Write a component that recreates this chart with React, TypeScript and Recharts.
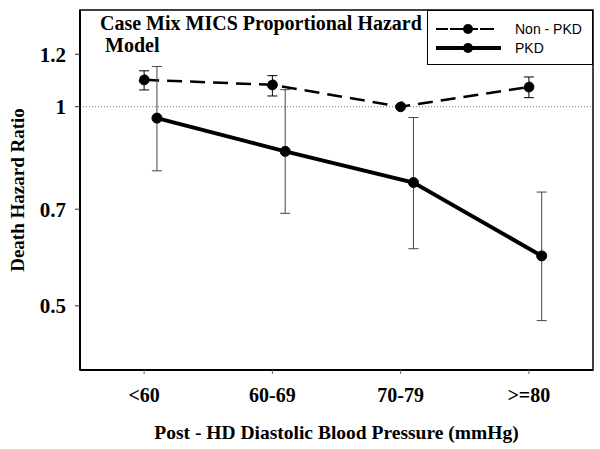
import {
  LineChart,
  Line,
  XAxis,
  YAxis,
  ErrorBar,
  ReferenceLine,
  ReferenceArea,
  Label,
} from "recharts";

// Hazard ratios (log-scaled y axis)
const categories = ["<60", "60-69", "70-79", ">=80"];
const nonPkdHr = [1.098, 1.079, 1.0, 1.071];
const nonPkdLow: (number | null)[] = [1.06, 1.038, null, 1.032];
const nonPkdHigh: (number | null)[] = [1.133, 1.114, null, 1.109];
const pkdHr = [0.961, 0.856, 0.768, 0.595];
const pkdLow = [0.8, 0.69, 0.61, 0.475];
const pkdHigh = [1.15, 1.061, 0.963, 0.743];
const yTicks = [0.5, 0.7, 1, 1.2];

// PKD points sit a little to the right of each category
const PKD_SHIFT = 0.1;

const SERIF = "'Liberation Serif', 'Times New Roman', serif";
const SANS = "'Liberation Sans', Arial, sans-serif";

function buildSeries(
  hr: number[],
  low: (number | null)[],
  high: (number | null)[],
  shift: number
) {
  return hr.map((v, i) => {
    const lo = low[i];
    const hi = high[i];
    return {
      x: i + shift,
      hr: v,
      err: lo == null || hi == null ? null : [v - lo, hi - v],
    };
  });
}

const nonPkdData = buildSeries(nonPkdHr, nonPkdLow, nonPkdHigh, 0);
const pkdData = buildSeries(pkdHr, pkdLow, pkdHigh, PKD_SHIFT);

// legend drawn by hand, boxed in the top-right corner of the plot
function LegendBox() {
  return (
    <div
      style={{
        position: "absolute",
        left: 427,
        top: 10,
        boxSizing: "border-box",
        width: 166,
        height: 55,
        border: "1px solid #000",
        background: "#fff",
        fontFamily: SANS,
        fontSize: 14,
        color: "#000",
      }}
    >
      <svg width={80} height={55} style={{ position: "absolute", left: 0, top: 0 }}>
        <line x1={8} x2={20} y1={18} y2={18} stroke="#000" strokeWidth={2} />
        <line x1={52} x2={66} y1={18} y2={18} stroke="#000" strokeWidth={2} />
        <line x1={22} x2={50} y1={18} y2={18} stroke="#000" strokeWidth={2} />
        <circle cx={40} cy={18} r={5} fill="#000" />
        <line x1={8} x2={73} y1={37} y2={37} stroke="#000" strokeWidth={4} />
        <circle cx={40} cy={37} r={5} fill="#000" />
      </svg>
      <div style={{ position: "absolute", left: 87, top: 9, lineHeight: "18px" }}>
        Non - PKD
      </div>
      <div style={{ position: "absolute", left: 87, top: 28, lineHeight: "18px" }}>
        PKD
      </div>
    </div>
  );
}

export default function App() {
  const tickStyle = {
    fontFamily: SERIF,
    fontWeight: "bold" as const,
    fontSize: 20,
    fill: "#000",
  };

  return (
    <div style={{ position: "absolute", left: 0, top: 0, width: 600, height: 449, background: "#fff" }}>
      <LineChart
        width={600}
        height={449}
        margin={{ top: 10, right: 7, left: 0, bottom: 0 }}
      >
        <XAxis
          type="number"
          dataKey="x"
          domain={[-0.5, 3.5]}
          ticks={[0, 1, 2, 3]}
          tickFormatter={(v: number) => categories[v] ?? ""}
          height={79}
          axisLine={{ stroke: "#000", strokeWidth: 2 }}
          tickLine={{ stroke: "#666" }}
          tickSize={4}
          tickMargin={14}
          tick={tickStyle}
          allowDataOverflow
        >
          <Label
            value="Post - HD Diastolic Blood Pressure (mmHg)"
            position="insideBottom"
            offset={10}
            style={{ ...tickStyle, fontSize: 19.5 }}
          />
        </XAxis>
        <YAxis
          type="number"
          scale="log"
          domain={[0.4, 1.4]}
          ticks={yTicks}
          width={80}
          axisLine={{ stroke: "#000", strokeWidth: 2 }}
          tickLine={{ stroke: "#333" }}
          tickSize={5}
          tickMargin={9}
          tick={{ ...tickStyle, fontSize: 21 }}
          allowDataOverflow
        >
          <Label
            value="Death Hazard Ratio"
            angle={-90}
            position="insideLeft"
            offset={17}
            style={{ ...tickStyle, fontSize: 19, textAnchor: "middle" }}
          />
        </YAxis>
        <ReferenceArea
          x1={-0.5}
          x2={3.5}
          y1={0.4}
          y2={1.4}
          fill="none"
          stroke="#000"
          strokeWidth={1.5}
          ifOverflow="visible"
        />
        <ReferenceLine y={1} stroke="#777" strokeDasharray="1 2" strokeWidth={1} />
        <Line
          name="Non - PKD"
          data={nonPkdData}
          dataKey="hr"
          stroke="#000"
          strokeWidth={2.5}
          strokeDasharray="15 8"
          dot={{ r: 5, fill: "#000", stroke: "#000", strokeWidth: 1 }}
          isAnimationActive={false}
        >
          <ErrorBar dataKey="err" direction="y" width={5} stroke="#000" strokeWidth={1} />
        </Line>
        <Line
          name="PKD"
          data={pkdData}
          dataKey="hr"
          stroke="#000"
          strokeWidth={4}
          dot={{ r: 5, fill: "#000", stroke: "#000", strokeWidth: 1 }}
          isAnimationActive={false}
        >
          <ErrorBar dataKey="err" direction="y" width={5} stroke="#444" strokeWidth={1} />
        </Line>
      </LineChart>
      <LegendBox />
      <div
        style={{
          position: "absolute",
          left: 100,
          top: 12,
          fontFamily: SERIF,
          fontWeight: "bold",
          fontSize: 20,
          lineHeight: "22px",
          color: "#000",
          pointerEvents: "none",
          whiteSpace: "pre",
        }}
      >
        {"Case Mix MICS Proportional Hazard\n Model"}
      </div>
    </div>
  );
}
